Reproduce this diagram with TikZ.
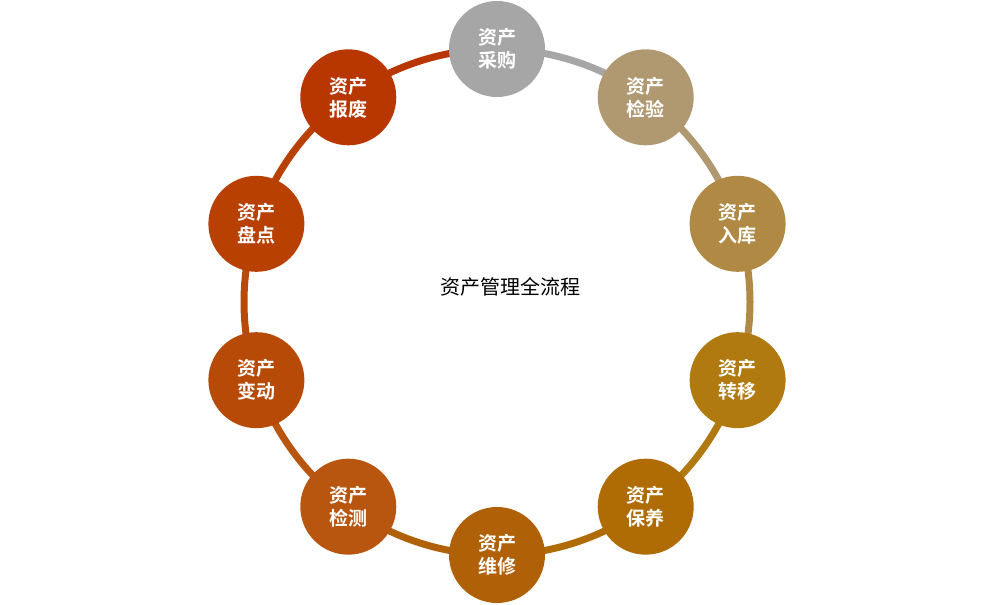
\documentclass[tikz,border=0pt]{standalone}
\usepackage{fontspec}
\usetikzlibrary{calc}
\newfontfamily\cjk{Noto Sans CJK SC}
\newfontfamily\cjkb{Noto Sans CJK SC Bold}
\definecolor{c1}{RGB}{166,166,166}
\definecolor{c2}{RGB}{176,152,112}
\definecolor{c3}{RGB}{176,138,68}
\definecolor{c4}{RGB}{176,122,16}
\definecolor{c5}{RGB}{176,108,4}
\definecolor{c6}{RGB}{176,96,6}
\definecolor{c7}{RGB}{184,86,16}
\definecolor{c8}{RGB}{184,74,8}
\definecolor{c9}{RGB}{184,64,0}
\definecolor{c10}{RGB}{184,54,0}
\tikzset{every picture/.style={line width=0.75pt}}
\tikzset{stagebox/.style={circle,minimum size=96pt,inner sep=0pt,text=white,align=center,font=\cjkb\fontsize{19}{23}\selectfont}}
\begin{document}
\begin{tikzpicture}[x=1pt,y=1pt]
\useasboundingbox (0,0) rectangle (996,605);
\coordinate (ctr) at (497,303);
%Ring
\foreach \i/\ang in {1/90,2/54,3/18,4/-18,5/-54,6/-90,7/-126,8/-162,9/162,10/126}{
  \draw[color=c\i,line width=7pt] ($(ctr)+(\ang:253)$) arc[start angle=\ang,end angle=\ang-36,radius=253];
}
%Stages
\foreach \i/\ang/\txt in {1/90/采购,2/54/检验,3/18/入库,4/-18/转移,5/-54/保养,6/-90/维修,7/-126/检测,8/-162/变动,9/162/盘点,10/126/报废}{
  \node[stagebox,fill=c\i] (s\i) at ($(ctr)+(\ang:253)$) {资产\\\txt};
}
% Text Node
\node[font=\cjk\fontsize{20}{24}\selectfont] (title) at (510,318) {资产管理全流程};
\end{tikzpicture}
\end{document}
